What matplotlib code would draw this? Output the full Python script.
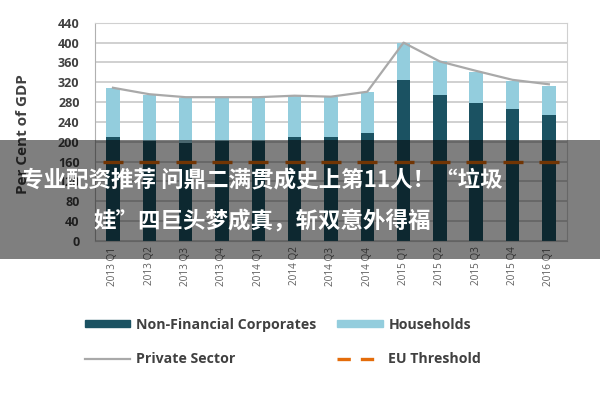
import numpy as np
import matplotlib
matplotlib.use('Agg')
import matplotlib.pyplot as plt
from matplotlib.lines import Line2D
from matplotlib.patches import Patch, Rectangle

plt.rcParams['font.family'] = ['Open Sans', 'DejaVu Sans']

# data
quarters = ['2013 Q1', '2013 Q2', '2013 Q3', '2013 Q4',
            '2014 Q1', '2014 Q2', '2014 Q3', '2014 Q4',
            '2015 Q1', '2015 Q2', '2015 Q3', '2015 Q4', '2016 Q1']
nfc = [210, 202, 197, 202, 202, 210, 209, 217, 325, 294, 278, 266, 255]
households = [99, 92, 92, 89, 89, 83, 82, 83, 74, 69, 63, 57, 58]
private_sector = [309, 296, 290, 290, 290, 293, 291, 301, 400, 362, 343, 325, 316]
eu_threshold = [160] * 13

headline = ['专业配资推荐 问鼎二满贯成史上第11人！“垃圾',
            '娃”四巨头梦成真，斩双意外得福']

dark = '#1b5262'
light = '#93cddd'
grey_line = '#a9a9a9'
orange = '#e46c0a'

fig = plt.figure(figsize=(6, 4), dpi=100)
ax = fig.add_axes([0.158, 0.3975, 0.787, 0.5455])

x = np.arange(len(quarters))
w = 0.37
ax.bar(x, nfc, w, color=dark, zorder=2)
ax.bar(x, households, w, bottom=nfc, color=light, zorder=2)
ax.plot(x, private_sector, color=grey_line, lw=1.6, zorder=3)
ax.plot(x, eu_threshold, linestyle='none', marker='_', markersize=15,
        mew=2.4, color=orange, zorder=4)

ax.set_xlim(-0.5, len(quarters) - 0.5)
ax.set_ylim(0, 440)
ax.set_yticks(range(0, 441, 40))
ax.grid(axis='y', color='#c8c8c8', lw=1.2, zorder=0)
ax.set_axisbelow(True)
for s in ['top', 'right']:
    ax.spines[s].set_color('#d0d0d0')
ax.spines['left'].set_color('#b0b0b0')
ax.spines['bottom'].set_color('#c8c8c8')
ax.tick_params(length=0)
ax.tick_params(axis='y', pad=11, labelsize=9, labelcolor='#404040')
ax.set_xticks(x)
ax.set_xticklabels(quarters, rotation=90, fontsize=7.2, color='#606060')
ax.tick_params(axis='x', pad=4)
for t in ax.get_yticklabels():
    t.set_fontweight('bold')
ax.set_ylabel('Per Cent of GDP', fontsize=11, fontweight='bold', color='#404040')
ax.yaxis.set_label_coords(-0.138, 0.49)

handles = [Patch(color=dark),
           Line2D([], [], color=grey_line, lw=1.6),
           Patch(color=light),
           Line2D([], [], color=orange, lw=2.4, linestyle=(0, (4, 3)))]
labels = ['Non-Financial Corporates', 'Private Sector', 'Households', 'EU Threshold']
leg = fig.legend(handles, labels, ncol=2, loc='upper left',
                 bbox_to_anchor=(0.12, 0.238), frameon=False,
                 handlelength=3.2, handleheight=0.4, handletextpad=0.4,
                 columnspacing=1.5, labelspacing=1.45,
                 prop={'size': 10.2, 'weight': 'bold'})
for t in leg.get_texts():
    t.set_color('#404040')

# overlay band with headline
fig.patches.append(Rectangle((0, 0.3525), 1, 0.2975, transform=fig.transFigure,
                             facecolor='black', alpha=0.5, zorder=10))
for i, line in enumerate(headline):
    fig.text(0.437, 0.55 - i * 0.105, line, ha='center', va='center',
             color='white', fontsize=16.2, fontweight='bold',
             family=['Noto Sans CJK SC', 'DejaVu Sans'], zorder=11)

fig.savefig('out.png', dpi=100)
